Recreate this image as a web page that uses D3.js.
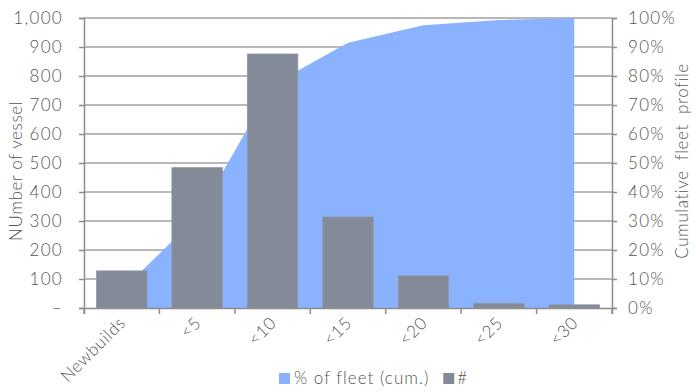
<!DOCTYPE html>
<html>
<head>
<meta charset="utf-8">
<script src="https://cdn.jsdelivr.net/npm/d3@7"></script>
<style>
  html, body { margin: 0; padding: 0; background: #fff; }
  svg { display: block; }
  text { font-family: Lato, sans-serif; font-weight: 300; fill: #555; letter-spacing: 1.3px; }
</style>
</head>
<body>
<svg id="chart" width="696" height="392"></svg>
<script>
// Fleet age profile: vessel counts per age bucket and cumulative share of fleet
const categories = ["Newbuilds", "<5", "<10", "<15", "<20", "<25", "<30"];
const vesselCounts = [128, 484, 876, 314, 111, 16, 11];
const cumulativePct = [6.0, 31.5, 77.0, 91.5, 97.5, 99.3, 100];
const leftTicks = [0, 100, 200, 300, 400, 500, 600, 700, 800, 900, 1000];
const rightTicks = [0, 10, 20, 30, 40, 50, 60, 70, 80, 90, 100];

const svg = d3.select("#chart");
const margin = { left: 84, right: 612, top: 18, bottom: 308 };
const fontSize = 17;

const x = d3.scaleBand().domain(categories).range([margin.left, margin.right])
  .paddingInner(0.33).paddingOuter(0.165);
const xc = d3.scaleBand().domain(categories).range([margin.left, margin.right]);
const yL = d3.scaleLinear().domain([0, 1000]).range([margin.bottom, margin.top]);
const yR = d3.scaleLinear().domain([0, 100]).range([margin.bottom, margin.top]);

const gridColor = "#a0a0a0";

// horizontal gridlines
svg.append("g").selectAll("line").data(leftTicks.slice(1)).join("line")
  .attr("x1", margin.left).attr("x2", margin.right)
  .attr("y1", d => yL(d)).attr("y2", d => yL(d))
  .attr("stroke", gridColor).attr("stroke-width", 1.3);

// cumulative share area
const area = d3.area()
  .x((d, i) => xc(categories[i]) + xc.bandwidth() / 2)
  .y0(yR(0))
  .y1(d => yR(d));
svg.append("path").datum(cumulativePct)
  .attr("d", area)
  .attr("fill", "#8ab2ff");

// vessel count bars
svg.append("g").selectAll("rect").data(vesselCounts).join("rect")
  .attr("x", (d, i) => x(categories[i]))
  .attr("width", x.bandwidth())
  .attr("y", d => yL(d))
  .attr("height", d => yL(0) - yL(d))
  .attr("fill", "#838b99")
  .attr("stroke", "#939aa6").attr("stroke-width", 0.8);

// left axis
const leftAxis = d3.axisLeft(yL).tickValues(leftTicks)
  .tickFormat(d => d === 0 ? "–" : d3.format(",")(d))
  .tickSize(5).tickPadding(16);
const gL = svg.append("g").attr("transform", `translate(${margin.left},0)`).call(leftAxis);

// right axis
const rightAxis = d3.axisRight(yR).tickValues(rightTicks)
  .tickFormat(d => d + "%").tickSize(5).tickPadding(11);
const gR = svg.append("g").attr("transform", `translate(${margin.right},0)`).call(rightAxis);

// bottom axis
const bottomAxis = d3.axisBottom(xc).tickSize(6).tickFormat("");
const gB = svg.append("g").attr("transform", `translate(0,${margin.bottom})`).call(bottomAxis);
gB.selectAll(".tick line").attr("transform", `translate(${-xc.bandwidth() / 2},0)`);
gB.append("line").attr("x1", margin.right).attr("x2", margin.right).attr("y1", 0).attr("y2", 6);

[gL, gR, gB].forEach(g => {
  g.select(".domain").attr("stroke", "#8c8c8c").attr("stroke-width", 1.5);
  g.selectAll("line").attr("stroke", "#8c8c8c").attr("stroke-width", 1.5);
  g.selectAll("text").attr("font-size", fontSize).attr("fill", "#555")
    .style("font-family", "Lato, sans-serif").style("font-weight", 300);
});

// rotated category labels
svg.append("g").selectAll("text").data(categories).join("text")
  .attr("transform", d => `translate(${xc(d) + xc.bandwidth() / 2 + 5},${324}) rotate(-45)`)
  .attr("text-anchor", "end")
  .attr("font-size", fontSize)
  .style("letter-spacing", "0.7px")
  .text(d => d);

// axis titles
svg.append("text")
  .attr("transform", "translate(22,171) rotate(-90)")
  .attr("text-anchor", "middle").attr("font-size", fontSize)
  .style("letter-spacing", "0.6px")
  .text("NUmber of vessel");
svg.append("text")
  .attr("transform", "translate(688,161) rotate(-90)")
  .attr("text-anchor", "middle").attr("font-size", fontSize)
  .style("letter-spacing", "0.6px")
  .attr("word-spacing", 5)
  .text("Cumulative fleet profile");

// legend
const legend = svg.append("g").attr("transform", "translate(279,373)");
legend.append("rect").attr("width", 11).attr("height", 11).attr("fill", "#8ab2ff");
const lt = legend.append("text").attr("x", 15).attr("y", 11).attr("font-size", fontSize)
  .style("letter-spacing", "1px").text("% of fleet (cum.)");
const gx = 15 + lt.node().getComputedTextLength() + 14;
legend.append("rect").attr("x", gx).attr("width", 11).attr("height", 11).attr("fill", "#838b99");
legend.append("text").attr("x", gx + 14).attr("y", 11).attr("font-size", fontSize).text("#");
</script>
</body>
</html>
